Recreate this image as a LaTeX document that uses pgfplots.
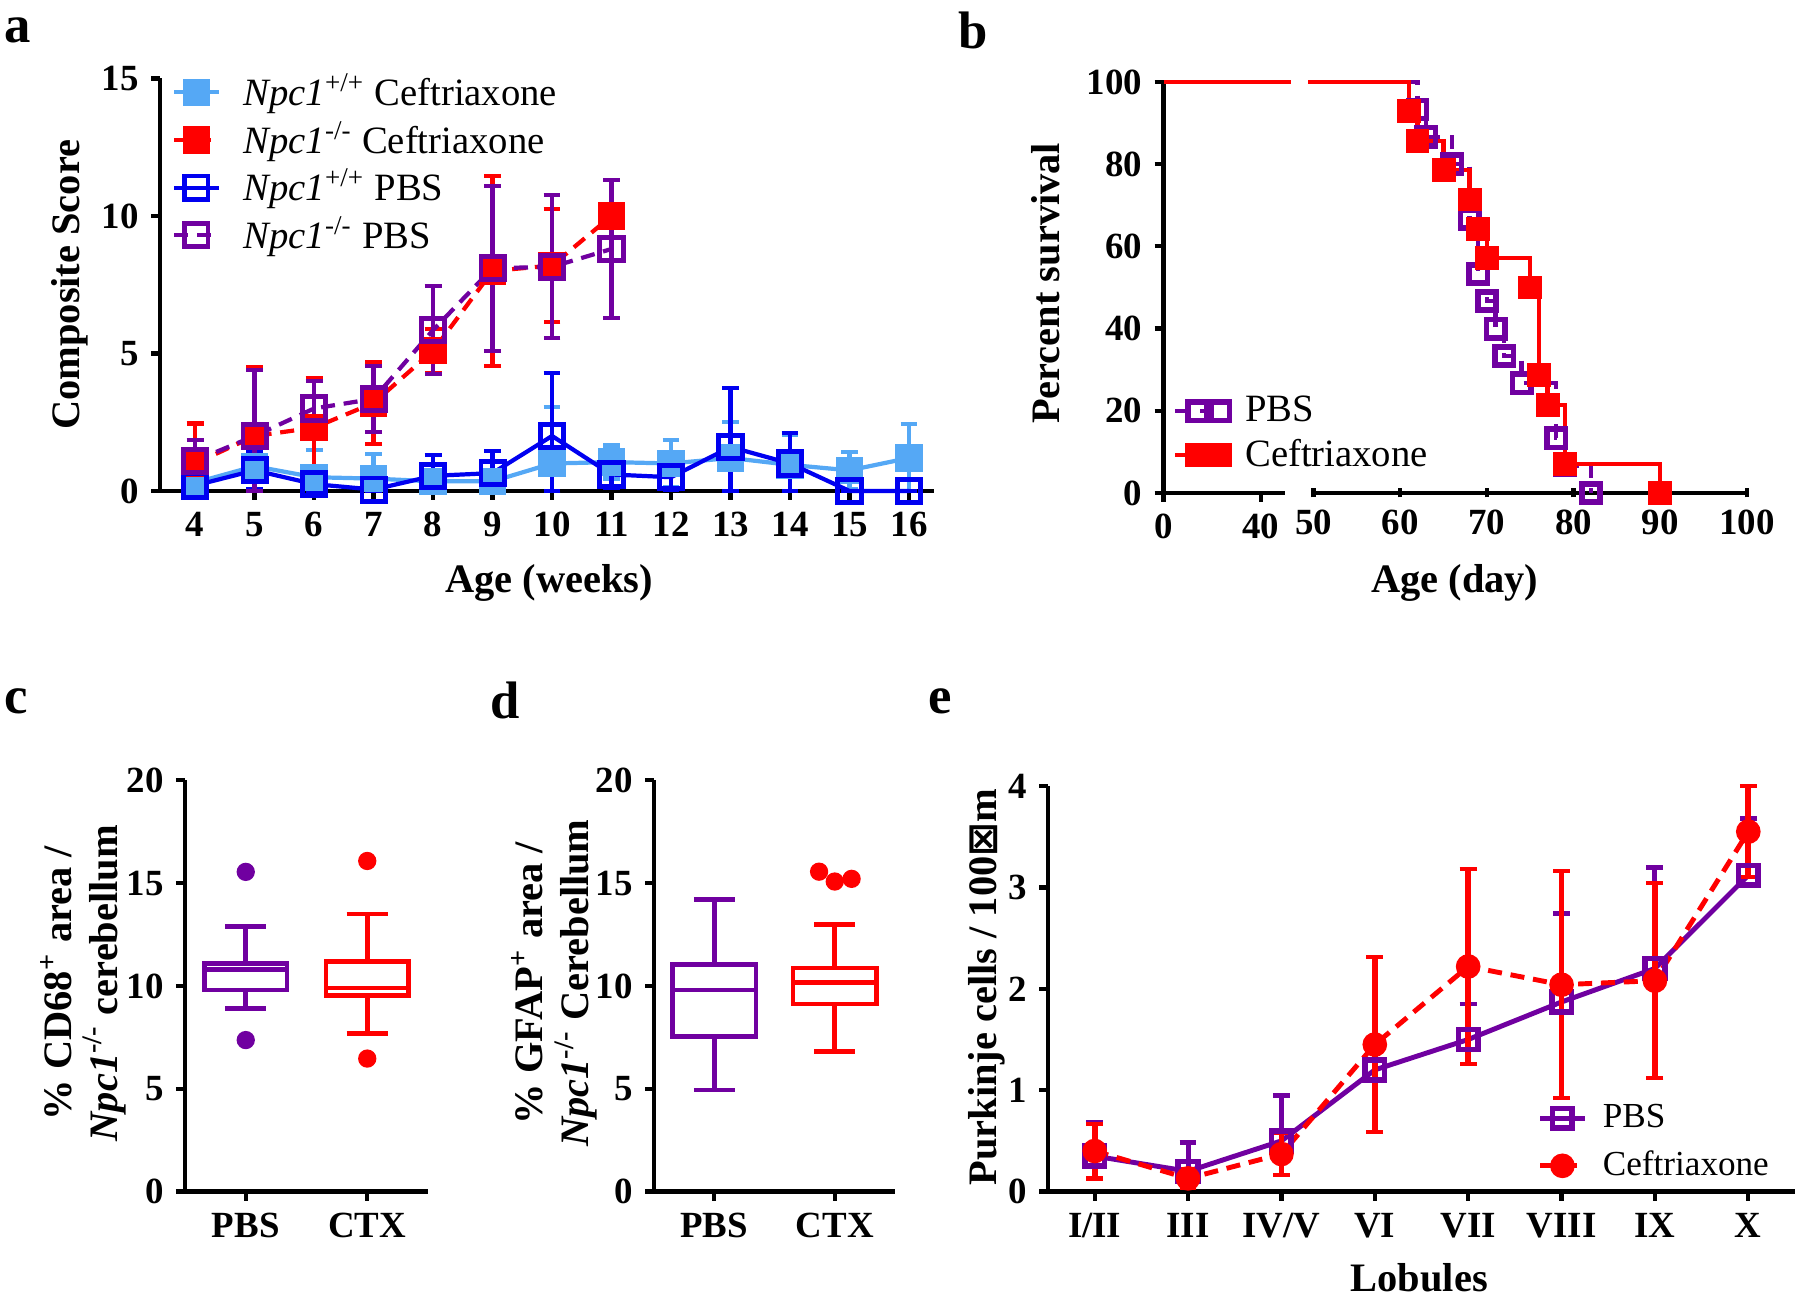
\documentclass[border=0pt]{standalone}
\usepackage{fontspec}
\setmainfont{Liberation Serif}
\newfontfamily\symfont{DejaVu Sans}
\usepackage{pgfplots}
\pgfplotsset{compat=1.18}
\definecolor{lblue}{RGB}{85,168,245}
\definecolor{dblue}{RGB}{0,0,240}
\definecolor{nred}{RGB}{255,0,0}
\definecolor{npurp}{RGB}{112,0,160}
\pgfplotsset{
  gp/.style={scale only axis, axis lines=left, axis line style={-, line width=1.2pt},
    tick align=outside, major tick length=0.09cm, tick style={line width=1.2pt, black},
    tick label style={font=\fontsize{10.5}{12}\selectfont\bfseries},
    label style={font=\fontsize{11.5}{13}\selectfont\bfseries},
    /pgf/number format/assume math mode=true, clip=false,
    legend style={draw=none, fill=none, font=\fontsize{11}{13}\selectfont, inner sep=0pt},
    legend cell align=left,
    legend image code/.code={\draw[mark repeat=2,mark phase=2] plot coordinates {(0cm,0cm) (0.22cm,0cm) (0.45cm,0cm)};},
  },
  eb/.style={error bars/.cd, y dir=both, y explicit,
    error mark options={rotate=90, mark size=2.4pt, line width=1.2pt, solid},
    error bar style={line width=1.2pt, solid}},
  ebp/.style={error bars/.cd, y dir=plus, y explicit,
    error mark options={rotate=90, mark size=2.4pt, line width=1.4pt, solid},
    error bar style={line width=1.4pt, solid}},
  bx/.style={line width=1.3pt, forget plot},
}
\begin{document}
\begin{tikzpicture}
\useasboundingbox (0,0) rectangle (18,12.97);
% panel labels
\node[font=\fontsize{15}{15}\selectfont\bfseries] at (0.18,12.67) {a};
\node[font=\fontsize{15}{15}\selectfont\bfseries] at (9.73,12.67) {b};
\node[font=\fontsize{15}{15}\selectfont\bfseries] at (0.16,5.96) {c};
\node[font=\fontsize{15}{15}\selectfont\bfseries] at (5.05,5.97) {d};
\node[font=\fontsize{15}{15}\selectfont\bfseries] at (9.40,5.96) {e};

% ---------------- panel a
\begin{axis}[gp, at={(1.60cm,8.06cm)}, anchor=south west, width=7.74cm, height=4.125cm,
  xmin=3.41, xmax=16.42, ymin=0, ymax=15, xtick={4,...,16}, ytick={0,5,10,15},
  xlabel={Age (weeks)}, ylabel={Composite Score},
  x label style={at={(axis description cs:0.503,-0.223)}, anchor=center},
  y label style={at={(axis description cs:-0.116,0.5)}, anchor=center},
  legend style={at={(axis description cs:0.015,1.03)}, anchor=north west, row sep=-1pt,
    /tikz/every odd column/.append style={column sep=0.15cm}}]
\addplot[lblue, line width=1.2pt, mark=square*, mark size=3.3pt, eb, error bar style={lblue}] coordinates {
 (4,0.3) += (0,0.5) -= (0,0.3) (5,0.9) += (0,0.4) -= (0,0.4) (6,0.5) += (0,1.0) -= (0,0.5)
 (7,0.45) += (0,0.9) -= (0,0.45) (8,0.35) += (0,0.4) -= (0,0.35) (9,0.35) += (0,0.4) -= (0,0.35)
 (10,1.0) += (0,2.05) -= (0,1.0) (11,1.05) += (0,0.6) -= (0,0.6) (12,1.0) += (0,0.85) -= (0,0.85)
 (13,1.2) += (0,1.3) -= (0,1.2) (14,0.95) += (0,1.1) -= (0,0.95) (15,0.75) += (0,0.68) -= (0,0.68)
 (16,1.2) += (0,1.23) -= (0,1.2)};
\addlegendentry{\textit{Npc1}\textsuperscript{+/+} Ceftriaxone}
\addplot[nred, line width=1.2pt, dash pattern=on 4pt off 2.5pt, mark=square*, mark size=3.3pt, mark options={solid}, eb] coordinates {
 (4,1.0) += (0,1.45) -= (0,1.0) (5,2.0) += (0,2.5) -= (0,2.0) (6,2.3) += (0,1.8) -= (0,1.8)
 (7,3.2) += (0,1.5) -= (0,1.5) (8,5.1) += (0,0.8) -= (0,0.8) (9,8.0) += (0,3.45) -= (0,3.45)
 (10,8.2) += (0,2.05) -= (0,2.05) (11,10.0) += (0,0) -= (0,0)};
\addlegendentry{\textit{Npc1}\textsuperscript{-/-} Ceftriaxone}
\addplot[dblue, line width=1.2pt, mark=square, mark size=3.3pt, mark options={fill=white, line width=1.4pt}, eb] coordinates {
 (4,0.2) += (0,0.2) -= (0,0.2) (5,0.75) += (0,0.7) -= (0,0.7) (6,0.25) += (0,0.3) -= (0,0.25)
 (7,0.05) += (0,0.05) -= (0,0.05) (8,0.55) += (0,0.75) -= (0,0.55) (9,0.65) += (0,0.8) -= (0,0.65)
 (10,2.0) += (0,2.3) -= (0,2.0) (11,0.6) += (0,0.5) -= (0,0.5) (12,0.5) += (0,0.45) -= (0,0.45)
 (13,1.6) += (0,2.15) -= (0,1.6) (14,1.0) += (0,1.1) -= (0,1.0) (15,0) += (0,0) -= (0,0) (16,0) += (0,0) -= (0,0)};
\addlegendentry{\textit{Npc1}\textsuperscript{+/+} PBS}
\addplot[npurp, line width=1.2pt, dash pattern=on 4pt off 2.5pt, mark=square, mark size=3.3pt, mark options={solid, fill=white, line width=1.4pt}, eb] coordinates {
 (4,1.1) += (0,0.75) -= (0,0.75) (5,2.0) += (0,2.4) -= (0,2.0) (6,3.0) += (0,1.0) -= (0,1.0)
 (7,3.35) += (0,1.2) -= (0,1.2) (8,5.85) += (0,1.6) -= (0,1.6) (9,8.1) += (0,3.0) -= (0,3.0)
 (10,8.15) += (0,2.6) -= (0,2.6) (11,8.8) += (0,2.5) -= (0,2.5)};
\addlegendentry{\textit{Npc1}\textsuperscript{-/-} PBS}
\end{axis}

% ---------------- panel b (broken x axis)
\begin{axis}[gp, at={(11.635cm,8.04cm)}, anchor=south west, width=1.215cm, height=4.11cm,
  xmin=0, xmax=50, ymin=0, ymax=100, xtick={0,40}, ytick={0,20,...,100},
  ylabel={Percent survival},
  y label style={at={(axis description cs:-0.967,0.51)}, anchor=center}]
\addplot[nred, line width=1.2pt] coordinates {(0,100) (52.5,100)};
\end{axis}
\begin{axis}[gp, at={(13.135cm,8.04cm)}, anchor=south west, width=4.335cm, height=4.11cm,
  axis x line=bottom, axis y line=none, axis line style={-},
  xmin=50, xmax=100, ymin=0, ymax=100, xtick={50,60,...,100},
  xlabel={Age (day)},
  x label style={at={(axis description cs:0.326,-0.219)}, anchor=center},
  legend style={at={(axis description cs:-0.325,0.255)}, anchor=north west, row sep=-0.5pt,
    /tikz/every odd column/.append style={column sep=0.08cm}}]
\addplot[npurp, line width=1.2pt, dash pattern=on 4pt off 3pt, const plot, mark=square, mark size=2.6pt,
  mark options={solid, fill=white, line width=1.6pt}, mark indices={2,...,13}] coordinates {
 (49.4,100) (62,93.3) (63,86.7) (66,80) (68,66.7) (69,53.3) (70,46.7) (71,40) (72,33.3) (74,26.7) (78,13.3) (79,6.7) (82,0)};
\addlegendentry{PBS}
\addplot[nred, line width=1.2pt, const plot, mark=square*, mark size=2.8pt, mark indices={2,...,12}] coordinates {
 (49.4,100) (61,92.9) (62,85.7) (65,78.6) (68,71.4) (69,64.3) (70,57.1) (75,50) (76,28.6) (77,21.4) (79,7.1) (90,0)};
\addlegendentry{Ceftriaxone}
\end{axis}

% ---------------- panel c
\begin{axis}[gp, at={(1.85cm,1.054cm)}, anchor=south west, width=2.43cm, height=4.112cm,
  xmin=0.5, xmax=2.5, ymin=0, ymax=20, xtick={1,2}, xticklabels={PBS,CTX}, ytick={0,5,...,20},
  ylabel={\% CD68\textsuperscript{+} area /\\\textit{Npc1}\textsuperscript{-/-} cerebellum},
  y label style={at={(axis description cs:-0.42,0.507)}, anchor=center, align=center}]
% PBS box
\addplot[bx, npurp] coordinates {(0.66,9.8) (1.34,9.8) (1.34,11.1) (0.66,11.1)} -- cycle;
\addplot[bx, npurp] coordinates {(0.66,10.8) (1.34,10.8)};
\addplot[bx, npurp] coordinates {(1,11.1) (1,12.9)};
\addplot[bx, npurp] coordinates {(0.83,12.9) (1.17,12.9)};
\addplot[bx, npurp] coordinates {(1,9.8) (1,8.9)};
\addplot[bx, npurp] coordinates {(0.83,8.9) (1.17,8.9)};
% CTX box
\addplot[bx, nred] coordinates {(1.66,9.55) (2.34,9.55) (2.34,11.2) (1.66,11.2)} -- cycle;
\addplot[bx, nred] coordinates {(1.66,9.9) (2.34,9.9)};
\addplot[bx, nred] coordinates {(2,11.2) (2,13.5)};
\addplot[bx, nred] coordinates {(1.83,13.5) (2.17,13.5)};
\addplot[bx, nred] coordinates {(2,9.55) (2,7.7)};
\addplot[bx, nred] coordinates {(1.83,7.7) (2.17,7.7)};
\addplot[only marks, npurp, mark=*, mark size=2.4pt] coordinates {(1,15.55) (1,7.37)};
\addplot[only marks, nred, mark=*, mark size=2.4pt] coordinates {(2,16.08) (2,6.47)};
\end{axis}

% ---------------- panel d
\begin{axis}[gp, at={(6.54cm,1.054cm)}, anchor=south west, width=2.41cm, height=4.112cm,
  xmin=0.5, xmax=2.5, ymin=0, ymax=20, xtick={1,2}, xticklabels={PBS,CTX}, ytick={0,5,...,20},
  ylabel={\% GFAP\textsuperscript{+} area /\\\textit{Npc1}\textsuperscript{-/-} Cerebellum},
  y label style={at={(axis description cs:-0.413,0.507)}, anchor=center, align=center}]
\addplot[bx, npurp] coordinates {(0.655,7.55) (1.345,7.55) (1.345,11.05) (0.655,11.05)} -- cycle;
\addplot[bx, npurp] coordinates {(0.655,9.8) (1.345,9.8)};
\addplot[bx, npurp] coordinates {(1,11.05) (1,14.2)};
\addplot[bx, npurp] coordinates {(0.83,14.2) (1.17,14.2)};
\addplot[bx, npurp] coordinates {(1,7.55) (1,4.95)};
\addplot[bx, npurp] coordinates {(0.83,4.95) (1.17,4.95)};
\addplot[bx, nred] coordinates {(1.655,9.13) (2.345,9.13) (2.345,10.87) (1.655,10.87)} -- cycle;
\addplot[bx, nred] coordinates {(1.655,10.18) (2.345,10.18)};
\addplot[bx, nred] coordinates {(2,10.87) (2,13.0)};
\addplot[bx, nred] coordinates {(1.83,13.0) (2.17,13.0)};
\addplot[bx, nred] coordinates {(2,9.13) (2,6.8)};
\addplot[bx, nred] coordinates {(1.83,6.8) (2.17,6.8)};
\addplot[only marks, nred, mark=*, mark size=2.4pt] coordinates {(1.87,15.56) (2.0,15.08) (2.14,15.21)};
\end{axis}

% ---------------- panel e
\begin{axis}[gp, at={(10.48cm,1.054cm)}, anchor=south west, width=7.47cm, height=4.056cm,
  xmin=-0.5, xmax=7.5, ymin=0, ymax=4, xtick={0,...,7},
  xticklabels={I/II,III,IV/V,VI,VII,VIII,IX,X}, ytick={0,1,2,3,4},
  xlabel={Lobules}, ylabel={Purkinje cells / 100{\symfont\bfseries ⊠}m},
  x label style={at={(axis description cs:0.497,-0.212)}, anchor=center},
  y label style={at={(axis description cs:-0.082,0.504)}, anchor=center},
  legend style={at={(axis description cs:0.655,0.235)}, anchor=north west, row sep=1.2pt,
    font=\fontsize{10}{12}\selectfont,
    /tikz/every odd column/.append style={column sep=0.08cm}}]
\addplot[npurp, line width=1.4pt, mark=square, mark size=2.8pt, mark options={fill=white, line width=1.6pt}, ebp] coordinates {
 (0,0.35) +- (0,0.33) (1,0.2) +- (0,0.28) (2,0.5) +- (0,0.45) (3,1.2) +- (0,0.31)
 (4,1.5) +- (0,0.35) (5,1.87) +- (0,0.87) (6,2.2) +- (0,1.0) (7,3.12) +- (0,0.56)};
\addlegendentry{PBS}
\addplot[nred, line width=1.4pt, dash pattern=on 4pt off 2.5pt, mark=*, mark size=2.8pt, mark options={solid}, eb,
  error bar style={line width=1.6pt}] coordinates {
 (0,0.4) +- (0,0.27) (1,0.13) +- (0,0.09) (2,0.37) +- (0,0.21) (3,1.45) +- (0,0.86)
 (4,2.22) +- (0,0.96) (5,2.04) +- (0,1.12) (6,2.08) +- (0,0.96) (7,3.55) +- (0,0.45)};
\addlegendentry{Ceftriaxone}
\end{axis}
\end{tikzpicture}
\end{document}
